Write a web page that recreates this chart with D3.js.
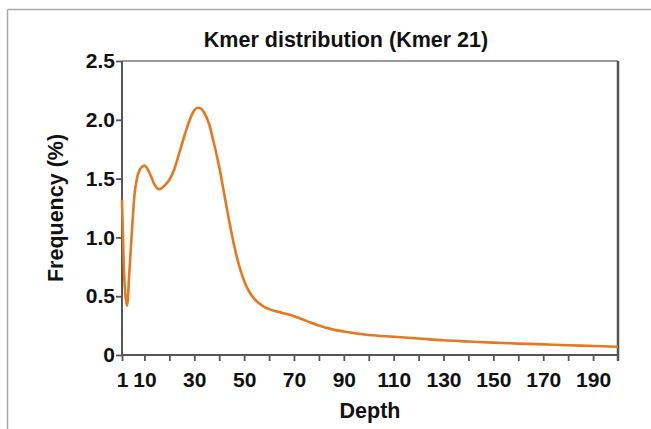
<!DOCTYPE html>
<html>
<head>
<meta charset="utf-8">
<script src="https://cdn.jsdelivr.net/npm/d3@7"></script>
<style>
  body { margin: 0; background: #fff; }
  svg text { font-family: "Liberation Sans", Arial, sans-serif; font-weight: bold; fill: #111; }
</style>
</head>
<body>
<svg id="canvas"></svg>
<script>
// depth / frequency
let depth = [1, 2, 3, 4, 5, 6, 7, 8, 9, 10, 11, 12, 13, 14, 15, 16, 17, 18, 20, 22, 24, 26, 28, 30, 31, 32, 34, 36, 38, 40, 42, 44, 46, 48, 50, 52, 54, 56, 58, 60, 65, 70, 75, 80, 85, 90, 100, 110, 120, 130, 140, 150, 160, 170, 180, 190, 200];
let freq = [1.32, 0.62, 0.42, 0.72, 1.06, 1.36, 1.50, 1.57, 1.60, 1.61, 1.59, 1.55, 1.50, 1.45, 1.42, 1.41, 1.42, 1.44, 1.49, 1.58, 1.72, 1.86, 1.99, 2.08, 2.10, 2.10, 2.06, 1.96, 1.79, 1.60, 1.37, 1.14, 0.93, 0.76, 0.63, 0.54, 0.48, 0.44, 0.41, 0.39, 0.36, 0.33, 0.29, 0.25, 0.22, 0.20, 0.17, 0.155, 0.14, 0.125, 0.115, 0.105, 0.097, 0.09, 0.083, 0.077, 0.07];

let xTicks = [1, 10, 20, 30, 40, 50, 60, 70, 80, 90, 100, 110, 120, 130, 140, 150, 160, 170, 180, 190];
let xLabels = [1, 10, 30, 50, 70, 90, 110, 130, 150, 170, 190];
let yTicks = [0, 0.5, 1.0, 1.5, 2.0, 2.5];

let width = 651;
let height = 429;
let plotLeft = 122, plotRight = 618, plotTop = 61, plotBottom = 355;

let canvas = d3.select('#canvas')
canvas.attr('width', width)
canvas.attr('height', height)

// outer frame
canvas.append('line').attr('x1', 7.5).attr('x2', width).attr('y1', 9.5).attr('y2', 9.5)
  .attr('stroke', '#aaa').attr('stroke-width', 1.5)
canvas.append('line').attr('x1', 7.5).attr('x2', 7.5).attr('y1', 9.5).attr('y2', height)
  .attr('stroke', '#aaa').attr('stroke-width', 1.5)

let xScale = d3.scaleLinear().domain([1, 200]).range([plotLeft, plotRight])
let yScale = d3.scaleLinear().domain([0, 2.5]).range([plotBottom, plotTop])

// plot box top and right
canvas.append('line').attr('x1', plotLeft).attr('x2', plotRight).attr('y1', plotTop).attr('y2', plotTop)
  .attr('stroke', '#777').attr('stroke-width', 1.5)
canvas.append('line').attr('x1', plotRight).attr('x2', plotRight).attr('y1', plotTop).attr('y2', plotBottom + 6)
  .attr('stroke', '#555').attr('stroke-width', 2.5)

let xAxis = d3.axisBottom(xScale)
  .tickValues(xTicks)
  .tickSize(6)
  .tickFormat(d => xLabels.includes(d) ? d : '')

let gx = canvas.append('g')
  .attr('id', 'x-axis')
  .attr('transform', 'translate(0,' + plotBottom + ')')
  .call(xAxis)
gx.select('.domain').attr('stroke', '#555').attr('stroke-width', 2).attr('d', `M${plotLeft},0H${plotRight}`)
gx.selectAll('.tick line').attr('stroke', '#555').attr('stroke-width', 1.8)
gx.selectAll('.tick text').attr('font-size', 21).attr('y', 32).attr('dy', 0)

let yAxis = d3.axisLeft(yScale)
  .tickValues(yTicks)
  .tickSize(6)
  .tickFormat(d => d === 0 ? '0' : d3.format('.1f')(d))

let gy = canvas.append('g')
  .attr('id', 'y-axis')
  .attr('transform', 'translate(' + plotLeft + ',0)')
  .call(yAxis)
gy.select('.domain').attr('stroke', '#555').attr('stroke-width', 2).attr('d', `M0,${plotTop}V${plotBottom}`)
gy.selectAll('.tick line').attr('stroke', '#555').attr('stroke-width', 1.8)
gy.selectAll('.tick text').attr('font-size', 21).attr('x', -7)

// curve
let points = depth.map((d, i) => [d, freq[i]])
let line = d3.line()
  .x(d => xScale(d[0]))
  .y(d => yScale(d[1]))
  .curve(d3.curveMonotoneX)

canvas.append('path')
  .datum(points)
  .attr('d', line)
  .attr('fill', 'none')
  .attr('stroke', '#E8771E')
  .attr('stroke-width', 2.6)

// titles
canvas.append('text')
  .attr('x', 346).attr('y', 47)
  .attr('text-anchor', 'middle')
  .attr('font-size', 21.5)
  .text('Kmer distribution (Kmer 21)')

canvas.append('text')
  .attr('x', (plotLeft + plotRight) / 2).attr('y', 418)
  .attr('text-anchor', 'middle')
  .attr('font-size', 21.5)
  .text('Depth')

canvas.append('text')
  .attr('transform', 'translate(63,' + ((plotTop + plotBottom) / 2) + ') rotate(-90)')
  .attr('text-anchor', 'middle')
  .attr('font-size', 21.5)
  .text('Frequency (%)')
</script>
</body>
</html>
